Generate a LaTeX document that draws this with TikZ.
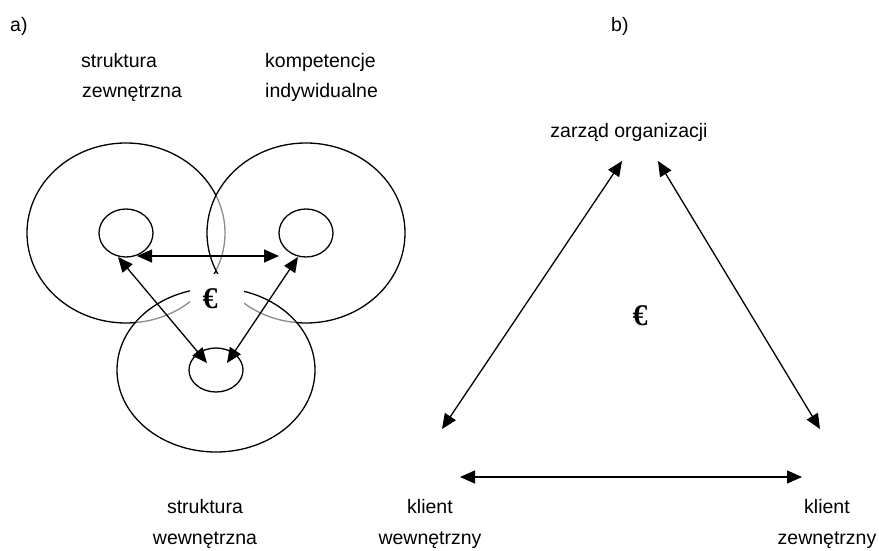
\documentclass[tikz,border=0pt]{standalone}
\usepackage{fontspec}
\setmainfont{Liberation Sans}
\newfontfamily\eurofont{Liberation Serif}
\usetikzlibrary{arrows.meta,shapes.geometric}

\begin{document}
\begin{tikzpicture}[x=1pt,y=-1pt,
  lbl/.style={font=\fontsize{19.5}{23}\selectfont, inner sep=0pt, anchor=base},
  lblw/.style={lbl, anchor=base west},
  euro/.style={font=\eurofont\bfseries\fontsize{30}{34}\selectfont, inner sep=0pt},
  link/.style={line width=1.3pt, {Triangle[length=15pt,width=13pt]}-{Triangle[length=15pt,width=13pt]}},
  outer/.style={draw=black, line width=1.3pt},
  ring/.style={outer, fill=white, fill opacity=0.55},
  core/.style={draw, line width=1.3pt, ellipse, inner sep=0pt}]

\useasboundingbox (0,0) rectangle (879,551);

% ---------- a) three overlapping areas ----------
\node[lblw] (la) at (10,32) {a)};
\node[lblw] (ts1) at (81,67) {struktura};
\node[lblw] (ts2) at (82,98) {zewnętrzna};
\node[lblw] (tk1) at (265,67) {kompetencje};
\node[lblw] (tk2) at (265,98) {indywidualne};

% outer rings; later rings veil the outlines beneath them
\draw[outer] (126,233) ellipse [x radius=99, y radius=90];
\draw[ring] (306,233) ellipse [x radius=99, y radius=90];
\draw[ring] (216,370) ellipse [x radius=99, y radius=82];

% gap around the central euro sign
\fill[white] (190,274) rectangle (244,312);
\node[euro] (ea) at (210,299) {€};

% inner cores
\node[core, minimum width=54pt, minimum height=48pt] (cl) at (126,233) {};
\node[core, minimum width=54pt, minimum height=48pt] (cr) at (306,233) {};
\node[core, minimum width=54pt, minimum height=44pt] (cb) at (216,370) {};

\coordinate (h1) at (137,256);
\coordinate (h2) at (279,256);
\coordinate (d1) at (118,257);
\coordinate (d2) at (207,363);
\coordinate (d3) at (298,257);
\coordinate (d4) at (227,363);
\draw[link] (h1) -- (h2);
\draw[link] (d1) -- (d2);
\draw[link] (d3) -- (d4);

\node[lbl] (bs1) at (205,513) {struktura};
\node[lbl] (bs2) at (205,544) {wewnętrzna};

% ---------- b) triangle of relations ----------
\node[lblw] (lb) at (611,32) {b)};
\node[lbl] (zo) at (629,137) {zarząd organizacji};
\node[lbl] (kw1) at (430,513) {klient};
\node[lbl] (kw2) at (430,544) {wewnętrzny};
\node[lbl] (kz1) at (827,513) {klient};
\node[lbl] (kz2) at (827,544) {zewnętrzny};
\node[euro] (eb) at (640,316) {€};

\coordinate (t1) at (622,161);
\coordinate (t2) at (658,161);
\coordinate (t3) at (442,429);
\coordinate (t4) at (820,429);
\coordinate (t5) at (460,477);
\coordinate (t6) at (802,477);
\draw[link] (t3) -- (t1);
\draw[link] (t2) -- (t4);
\draw[link] (t5) -- (t6);
\end{tikzpicture}
\end{document}
